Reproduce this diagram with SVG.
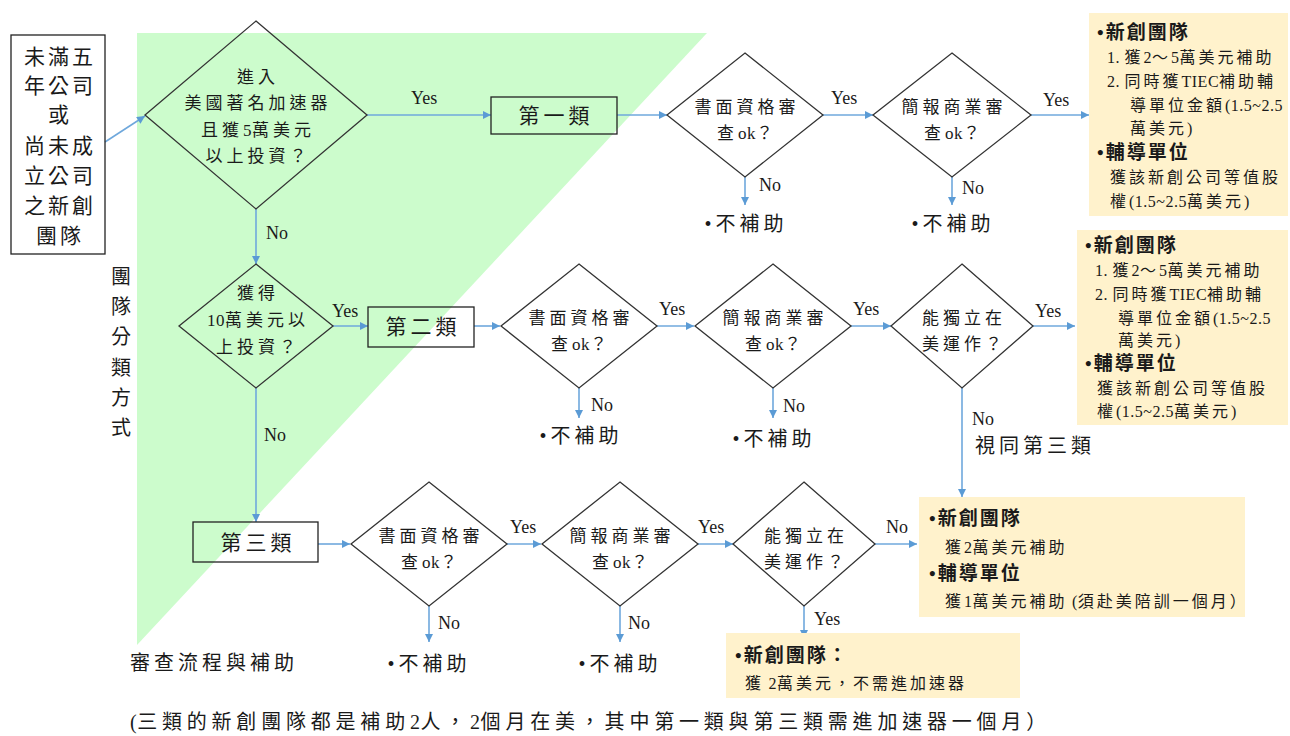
<svg xmlns="http://www.w3.org/2000/svg" width="1290" height="736" viewBox="0 0 1290 736">
<defs>
<style>
text{font-family:"Liberation Serif","Noto Sans CJK TC",serif;fill:#1a1a1a}
.d{fill:none;stroke:#333;stroke-width:1.3}
.b{fill:none;stroke:#222;stroke-width:1.3}
.n{fill:#fff2cc}
.c{stroke:#6fa8dc;stroke-width:1.6;fill:none;marker-end:url(#ah)}
.lb{font-size:18px}
.dt{font-size:17px;letter-spacing:4px;text-anchor:middle}
.bx{font-size:21px;letter-spacing:4px;text-anchor:middle}
.no{font-size:20px;letter-spacing:4px;text-anchor:middle}
.nt{font-size:16px;letter-spacing:3px}
.nb{font-size:19px;font-weight:bold;letter-spacing:2px}
.l{letter-spacing:0.5px}
</style>
<marker id="ah" viewBox="0 0 10 10" refX="10" refY="5" markerWidth="9" markerHeight="8" markerUnits="userSpaceOnUse" orient="auto">
<path d="M0,0 L10,5 L0,10 z" fill="#5b9bd5"/>
</marker>
</defs>
<rect width="1290" height="736" fill="#fff"/>
<polygon points="137,33 707,33 137,645" fill="#ccfccc"/>

<g id="connectors">
<line class="c" x1="105" y1="142" x2="145" y2="116"/>
<line class="c" x1="367" y1="115" x2="491" y2="115"/>
<line class="c" x1="256" y1="209" x2="256" y2="264"/>
<line class="c" x1="617" y1="115" x2="667" y2="115"/>
<line class="c" x1="823" y1="115" x2="873" y2="115"/>
<line class="c" x1="745" y1="177" x2="745" y2="205"/>
<line class="c" x1="1031" y1="115" x2="1089" y2="115"/>
<line class="c" x1="952" y1="177" x2="952" y2="205"/>
<line class="c" x1="333" y1="326" x2="368" y2="326"/>
<line class="c" x1="256" y1="388" x2="256" y2="522"/>
<line class="c" x1="474" y1="326" x2="500" y2="326"/>
<line class="c" x1="657" y1="326" x2="694" y2="326"/>
<line class="c" x1="579" y1="388" x2="579" y2="418"/>
<line class="c" x1="851" y1="326" x2="891" y2="326"/>
<line class="c" x1="773" y1="388" x2="773" y2="418"/>
<line class="c" x1="1033" y1="326" x2="1075" y2="326"/>
<line class="c" x1="962" y1="388" x2="962" y2="497"/>
<line class="c" x1="318" y1="544" x2="350" y2="544"/>
<line class="c" x1="507" y1="544" x2="541" y2="544"/>
<line class="c" x1="429" y1="606" x2="429" y2="642"/>
<line class="c" x1="698" y1="544" x2="733" y2="544"/>
<line class="c" x1="620" y1="606" x2="620" y2="642"/>
<line class="c" x1="875" y1="544" x2="917" y2="544"/>
<line class="c" x1="804" y1="606" x2="804" y2="638"/>
<g class="lb">
<text x="411" y="104">Yes</text>
<text x="266" y="239">No</text>
<text x="831" y="104">Yes</text>
<text x="759" y="191">No</text>
<text x="1043" y="106">Yes</text>
<text x="962" y="194">No</text>
<text x="332" y="317">Yes</text>
<text x="264" y="441">No</text>
<text x="659" y="315">Yes</text>
<text x="591" y="411">No</text>
<text x="853" y="315">Yes</text>
<text x="783" y="412">No</text>
<text x="1035" y="317">Yes</text>
<text x="972" y="425">No</text>
<text x="510" y="533">Yes</text>
<text x="438" y="629">No</text>
<text x="698" y="533">Yes</text>
<text x="628" y="629">No</text>
<text x="886" y="533">No</text>
<text x="814" y="625">Yes</text>
</g>
</g>

<g id="start" style="font-size:21px;letter-spacing:3px;text-anchor:middle">
<rect class="b" x="11" y="35" width="94" height="219" fill="#fff"/>
<text x="60" y="64">未滿五</text>
<text x="60" y="93">年公司</text>
<text x="60" y="122">或</text>
<text x="60" y="153">尚未成</text>
<text x="60" y="183">立公司</text>
<text x="60" y="213">之新創</text>
<text x="60" y="243">團隊</text>
</g>

<g id="d1">
<polygon class="d" points="256,21 367,115 256,209 145,115"/>
<text class="dt" x="258" y="83">進入</text>
<text class="dt" x="258" y="109">美國著名加速器</text>
<text class="dt" x="258" y="136">且獲<tspan class="l">5</tspan>萬美元</text>
<text class="dt" x="258" y="162">以上投資？</text>
</g>

<g id="cat1">
<rect class="b" x="491" y="97" width="126" height="37"/>
<text class="bx" x="556" y="123">第一類</text>
</g>

<g id="d2">
<polygon class="d" points="745,53 823,115 745,177 667,115"/>
<text class="dt" x="747" y="113">書面資格審</text>
<text class="dt" x="747" y="139">查<tspan class="l">ok</tspan>？</text>
</g>
<g id="d3">
<polygon class="d" points="952,53 1031,115 952,177 873,115"/>
<text class="dt" x="954" y="113">簡報商業審</text>
<text class="dt" x="954" y="139">查<tspan class="l">ok</tspan>？</text>
</g>
<text id="no1" class="no" x="746" y="231">•不補助</text>
<text id="no2" class="no" x="953" y="231">•不補助</text>

<g id="r1">
<rect class="n" x="1089" y="13" width="199" height="203"/>
<text class="nb" x="1097" y="39">•新創團隊</text>
<text class="nt" x="1107" y="63"><tspan class="l">1. </tspan>獲<tspan class="l">2</tspan>～<tspan class="l">5</tspan>萬美元補助</text>
<text class="nt" x="1107" y="87"><tspan class="l">2. </tspan>同時獲<tspan class="l">TIEC</tspan>補助輔</text>
<text class="nt" x="1130" y="111">導單位金額<tspan class="l">(1.5~2.5</tspan></text>
<text class="nt" x="1130" y="134">萬美元<tspan class="l">)</tspan></text>
<text class="nb" x="1097" y="159">•輔導單位</text>
<text class="nt" x="1110" y="183">獲該新創公司等值股</text>
<text class="nt" x="1110" y="207">權<tspan class="l">(1.5~2.5</tspan>萬美元<tspan class="l">)</tspan></text>
</g>

<g id="d4">
<polygon class="d" points="256,264 333,326 256,388 179,326"/>
<text class="dt" x="258" y="299">獲得</text>
<text class="dt" x="258" y="326"><tspan class="l">10</tspan>萬美元以</text>
<text class="dt" x="258" y="353">上投資？</text>
</g>
<g id="cat2">
<rect class="b" x="368" y="307" width="106" height="40"/>
<text class="bx" x="423" y="334">第二類</text>
</g>
<g id="d5">
<polygon class="d" points="579,264 657,326 579,388 501,326"/>
<text class="dt" x="581" y="324">書面資格審</text>
<text class="dt" x="581" y="350">查<tspan class="l">ok</tspan>？</text>
</g>
<g id="d6">
<polygon class="d" points="773,264 851,326 773,388 695,326"/>
<text class="dt" x="775" y="324">簡報商業審</text>
<text class="dt" x="775" y="350">查<tspan class="l">ok</tspan>？</text>
</g>
<g id="d7">
<polygon class="d" points="962,264 1033,326 962,388 891,326"/>
<text class="dt" x="964" y="324">能獨立在</text>
<text class="dt" x="964" y="350">美運作？</text>
</g>
<text id="no3" class="no" x="581" y="443">•不補助</text>
<text id="no4" class="no" x="774" y="446">•不補助</text>
<text id="same3" x="975" y="453" style="font-size:20px;letter-spacing:4px">視同第三類</text>

<g id="r2">
<rect class="n" x="1077" y="230" width="211" height="195"/>
<text class="nb" x="1085" y="252">•新創團隊</text>
<text class="nt" x="1095" y="276"><tspan class="l">1. </tspan>獲<tspan class="l">2</tspan>～<tspan class="l">5</tspan>萬美元補助</text>
<text class="nt" x="1095" y="300"><tspan class="l">2. </tspan>同時獲<tspan class="l">TIEC</tspan>補助輔</text>
<text class="nt" x="1118" y="324">導單位金額<tspan class="l">(1.5~2.5</tspan></text>
<text class="nt" x="1118" y="346">萬美元<tspan class="l">)</tspan></text>
<text class="nb" x="1085" y="370">•輔導單位</text>
<text class="nt" x="1097" y="394">獲該新創公司等值股</text>
<text class="nt" x="1097" y="417">權<tspan class="l">(1.5~2.5</tspan>萬美元<tspan class="l">)</tspan></text>
</g>

<g id="cat3">
<rect class="b" x="193" y="522" width="125" height="40"/>
<text class="bx" x="258" y="550">第三類</text>
</g>
<g id="d8">
<polygon class="d" points="429,482 507,544 429,606 351,544"/>
<text class="dt" x="431" y="542">書面資格審</text>
<text class="dt" x="431" y="568">查<tspan class="l">ok</tspan>？</text>
</g>
<g id="d9">
<polygon class="d" points="620,482 698,544 620,606 542,544"/>
<text class="dt" x="622" y="542">簡報商業審</text>
<text class="dt" x="622" y="568">查<tspan class="l">ok</tspan>？</text>
</g>
<g id="d10">
<polygon class="d" points="804,482 875,544 804,606 733,544"/>
<text class="dt" x="806" y="542">能獨立在</text>
<text class="dt" x="806" y="568">美運作？</text>
</g>
<text id="no5" class="no" x="429" y="671">•不補助</text>
<text id="no6" class="no" x="620" y="671">•不補助</text>

<g id="r3">
<rect class="n" x="919" y="497" width="326" height="120"/>
<text class="nb" x="929" y="525">•新創團隊</text>
<text class="nt" x="945" y="553">獲<tspan class="l">2</tspan>萬美元補助</text>
<text class="nb" x="929" y="580">•輔導單位</text>
<text class="nt" x="945" y="607">獲<tspan class="l">1</tspan>萬美元補助<tspan class="l"> (</tspan>須赴美陪訓一個月）</text>
</g>

<g id="r4">
<rect class="n" x="726" y="633" width="294" height="65"/>
<text class="nb" x="735" y="662">•新創團隊：</text>
<text class="nt" x="745" y="689">獲<tspan class="l"> 2</tspan>萬美元，不需進加速器</text>
</g>

<g id="side" style="font-size:20px;text-anchor:middle">
<text x="121" y="284">團</text>
<text x="121" y="314">隊</text>
<text x="121" y="344">分</text>
<text x="121" y="375">類</text>
<text x="121" y="405">方</text>
<text x="121" y="435">式</text>
</g>
<text id="review" x="130" y="670" style="font-size:20px;letter-spacing:4px">審查流程與補助</text>
<text id="note" x="130" y="729" style="font-size:20px;letter-spacing:4.8px"><tspan class="l">(</tspan>三類的新創團隊都是補助<tspan class="l">2</tspan>人，<tspan class="l">2</tspan>個月在美，其中第一類與第三類需進加速器一個月）</text>
</svg>
